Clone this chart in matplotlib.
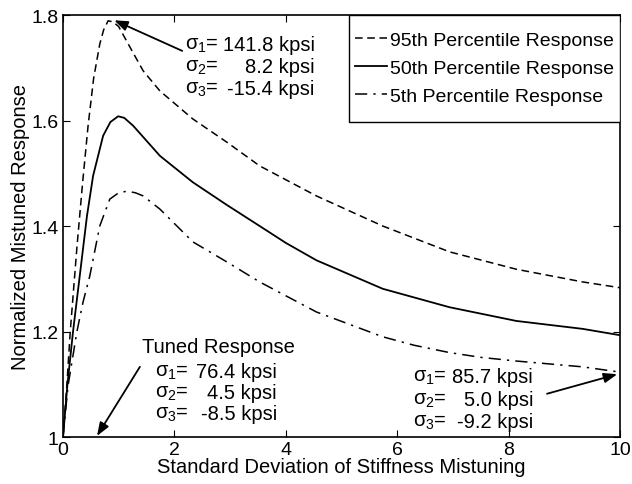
import matplotlib.pyplot as plt
from matplotlib.patches import Rectangle

plt.rcParams['font.family'] = ['Liberation Sans', 'DejaVu Sans']
plt.rcParams['mathtext.fontset'] = 'custom'
plt.rcParams['mathtext.rm'] = 'Liberation Sans'
plt.rcParams['mathtext.it'] = 'Liberation Sans'

# percentile curves vs. std. deviation of stiffness mistuning
x95 = [0, 0.07, 0.13, 0.25, 0.35, 0.45, 0.55, 0.66, 0.73, 0.81, 0.9, 1.0,
       1.15, 1.44, 1.74, 2.33, 2.94, 3.53, 4.55, 5.74, 6.94, 8.14, 9.33, 10]
y95 = [1.0, 1.1, 1.2, 1.36, 1.48, 1.59, 1.68, 1.745, 1.772, 1.789, 1.787,
       1.778, 1.749, 1.694, 1.656, 1.603, 1.559, 1.514, 1.457, 1.40, 1.351,
       1.318, 1.294, 1.283]

x50 = [0, 0.08, 0.18, 0.30, 0.43, 0.54, 0.72, 0.85, 0.99, 1.1, 1.26, 1.74,
       2.33, 2.94, 3.53, 4.0, 4.55, 5.74, 6.94, 8.14, 9.33, 10]
y50 = [1.0, 1.1, 1.2, 1.305, 1.419, 1.495, 1.571, 1.597, 1.608, 1.605, 1.59,
       1.533, 1.483, 1.44, 1.40, 1.368, 1.335, 1.281, 1.246, 1.22, 1.205, 1.193]

x05 = [0, 0.09, 0.25, 0.36, 0.48, 0.66, 0.84, 1.0, 1.15, 1.3, 1.44, 1.74,
       2.33, 2.94, 3.53, 4.55, 5.74, 6.3, 6.94, 7.5, 8.14, 9.33, 10]
y05 = [1.0, 1.097, 1.2, 1.256, 1.305, 1.40, 1.451, 1.463, 1.466, 1.463, 1.457,
       1.432, 1.37, 1.332, 1.294, 1.237, 1.19, 1.174, 1.160, 1.151, 1.144,
       1.133, 1.123]

labels = ['95th Percentile Response', '50th Percentile Response',
          '5th Percentile Response']

# stress annotations: (sigma label, value)
peak_txt = [('σ$_1$=', '141.8 kpsi'), ('σ$_2$=', '8.2 kpsi'), ('σ$_3$=', '-15.4 kpsi')]
tuned_txt = [('σ$_1$=', '76.4 kpsi'), ('σ$_2$=', '4.5 kpsi'), ('σ$_3$=', '-8.5 kpsi')]
end_txt = [('σ$_1$=', '85.7 kpsi'), ('σ$_2$=', '5.0 kpsi'), ('σ$_3$=', '-9.2 kpsi')]

FS = 14.5


def stress_block(ax, rows, xl, xr, ys, fs=FS):
    for (lab, val), y in zip(rows, ys):
        ax.text(xl, y, lab, ha='left', va='center', fontsize=fs)
        ax.text(xr, y, val, ha='right', va='center', fontsize=fs)


def main():
    fig = plt.figure(figsize=(6.32, 4.85), dpi=100)
    ax = fig.add_axes([0.0997, 0.0969, 0.8813, 0.8701])

    ax.plot(x95, y95, color='black', lw=1.1, linestyle=(0, (5, 3)), label=labels[0])
    ax.plot(x50, y50, color='black', lw=1.3, linestyle='-', label=labels[1])
    ax.plot(x05, y05, color='black', lw=1.1, linestyle=(0, (8, 4, 1.5, 4)), label=labels[2])

    ax.set_xlim(0, 10)
    ax.set_ylim(1, 1.8)
    ax.set_xticks([0, 2, 4, 6, 8, 10])
    ax.set_xticklabels(['0', '2', '4', '6', '8', '10'])
    ax.set_yticks([1, 1.2, 1.4, 1.6, 1.8])
    ax.set_yticklabels(['1', '1.2', '1.4', '1.6', '1.8'])
    ax.tick_params(direction='in', top=True, right=True, length=5,
                   labelsize=14, pad=3)
    for sp in ax.spines.values():
        sp.set_linewidth(1.2)

    ax.set_xlabel('Standard Deviation of Stiffness Mistuning', fontsize=FS, labelpad=-1)
    ax.set_ylabel('Normalized Mistuned Response', fontsize=FS, labelpad=1)

    # legend box drawn separately so the padding can differ in x and y
    ax.add_patch(Rectangle((0.5135, 0.7464), 0.4865, 0.2536, transform=ax.transAxes,
                           facecolor='white', edgecolor='black', lw=1.0, zorder=4))
    leg = ax.legend(loc='center', bbox_to_anchor=(0.7576, 0.874), frameon=False,
                    fontsize=14, handlelength=1.6, handletextpad=0.2,
                    labelspacing=0.55, borderpad=0, borderaxespad=0)
    leg.set_zorder(5)

    arrow = dict(arrowstyle='-|>,head_length=0.8,head_width=0.3',
                 color='black', lw=1.3, shrinkA=0, shrinkB=0)

    # peak of the 95th percentile curve
    stress_block(ax, peak_txt, 2.19, 4.52, [1.745, 1.703, 1.661])
    ax.annotate('', xy=(0.92, 1.790), xytext=(2.14, 1.732), arrowprops=arrow)

    # tuned system
    ax.text(1.42, 1.171, 'Tuned Response', ha='left', va='center', fontsize=FS)
    stress_block(ax, tuned_txt, 1.65, 3.84, [1.125, 1.085, 1.044])
    ax.annotate('', xy=(0.61, 1.002), xytext=(1.38, 1.133), arrowprops=arrow)

    # end of the 5th percentile curve
    stress_block(ax, end_txt, 6.28, 8.44, [1.114, 1.072, 1.030])
    ax.annotate('', xy=(9.95, 1.119), xytext=(8.69, 1.082), arrowprops=arrow)

    fig.savefig('out.png', dpi=100)


if __name__ == '__main__':
    main()
